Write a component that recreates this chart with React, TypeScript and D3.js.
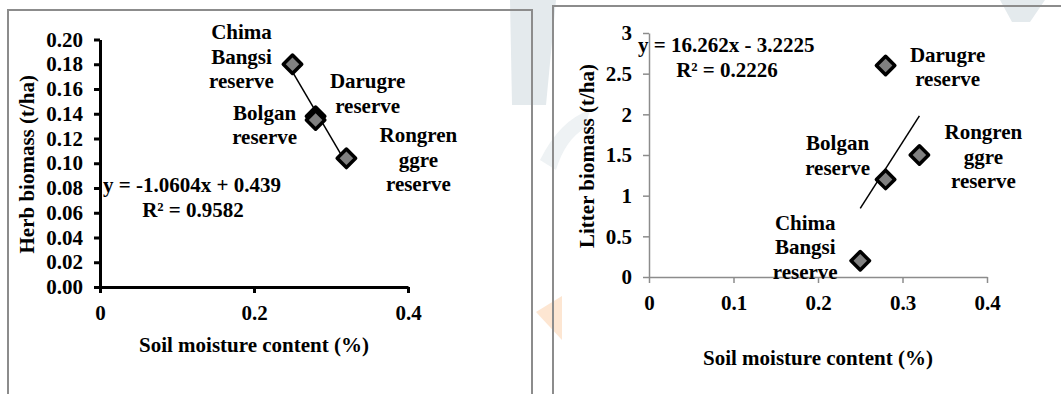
import React, { useEffect, useRef } from "react";
import * as d3 from "d3";

// site names (label lines) and soil moisture for each reserve
const sites = ["Chima Bangsi", "Darugre", "Bolgan", "Rongrenggre"];
const siteLines = [
  ["Chima", "Bangsi", "reserve"],
  ["Darugre", "reserve"],
  ["Bolgan", "reserve"],
  ["Rongren", "ggre", "reserve"],
];
const moisture = [0.25, 0.28, 0.28, 0.32];
const herbBiomass = [0.18, 0.138, 0.135, 0.104];
const litterBiomass = [0.2, 2.6, 1.2, 1.5];

const herbTicksX = [0, 0.2, 0.4];
const herbTicksY = [0, 0.02, 0.04, 0.06, 0.08, 0.1, 0.12, 0.14, 0.16, 0.18, 0.2];
const litterTicksX = [0, 0.1, 0.2, 0.3, 0.4];
const litterTicksY = [0, 0.5, 1, 1.5, 2, 2.5, 3];

// trendline coefficients shown on the charts
const herbFit = { slope: -1.0604, icept: 0.439, eq: "y = -1.0604x + 0.439", r2: "R² = 0.9582" };
const litterFit = { slope: 16.262, icept: -3.2225, eq: "y = 16.262x - 3.2225", r2: "R² = 0.2226" };

const FONT = "Liberation Serif, DejaVu Serif, serif";

export default function App() {
  const svgRef = useRef<SVGSVGElement>(null);

  useEffect(() => {
    const svg = d3.select(svgRef.current);
    svg.selectAll("*").remove();

    // faint watermark shapes in the background
    const wm = svg.append("g");
    wm.append("path").attr("d", "M510,0 L556,0 L546,105 L512,105 Z").attr("fill", "#e4eaed");
    wm.append("path").attr("d", "M1000,0 L1045,0 L1030,22 L1012,22 Z").attr("fill", "#e4eaed");
    wm.append("path").attr("d", "M536,312 L562,296 L562,340 Z").attr("fill", "#fde6d2");
    wm.append("path").attr("d", "M540,160 Q560,120 590,110 L585,128 Q565,140 556,170 Z").attr("fill", "#eef2f4");

    // panel frames
    svg.append("path").attr("d", "M8,394 L8,10 L532,10 L532,394")
      .attr("fill", "none").attr("stroke", "#8c8c8c").attr("stroke-width", 2);
    svg.append("path").attr("d", "M553,394 L553,6 L1061,6")
      .attr("fill", "none").attr("stroke", "#8c8c8c").attr("stroke-width", 2);

    const drawPanel = (opts: any) => {
      const { x, y, xTicks, yTicks, yFmt, xFmt, values, fit, axisColor, axisWidth,
        labelOffsets, yTitle, yTitleX, xTitleY, eqPos, r2Pos, xPad } = opts;
      const g = svg.append("g");

      const xAxis = d3.axisBottom(x).tickValues(xTicks).tickFormat(xFmt)
        .tickSize(6).tickSizeOuter(0).tickPadding(xPad);
      const yAxis = d3.axisLeft(y).tickValues(yTicks).tickFormat(yFmt)
        .tickSize(6).tickSizeOuter(0).tickPadding(11);

      [
        g.append("g").attr("transform", `translate(0,${y.range()[0]})`).call(xAxis),
        g.append("g").attr("transform", `translate(${x.range()[0]},0)`).call(yAxis),
      ].forEach((a) => {
        a.attr("font-family", FONT);
        a.select(".domain").attr("stroke", axisColor).attr("stroke-width", axisWidth);
        a.selectAll(".tick line").attr("stroke", axisColor).attr("stroke-width", axisWidth);
        a.selectAll("text").attr("font-family", FONT).attr("font-size", 21)
          .attr("font-weight", "bold").attr("fill", "#000");
      });

      // trendline
      const x0 = d3.min(moisture)!, x1 = d3.max(moisture)!;
      g.append("line")
        .attr("x1", x(x0)).attr("y1", y(fit.slope * x0 + fit.icept))
        .attr("x2", x(x1)).attr("y2", y(fit.slope * x1 + fit.icept))
        .attr("stroke", "#000").attr("stroke-width", 1.5);

      // diamond markers (squares turned 45 degrees)
      g.selectAll(".pt").data(values).join("path")
        .attr("transform", (d: number, i: number) => `translate(${x(moisture[i])},${y(d)}) rotate(45)`)
        .attr("d", d3.symbol().type(d3.symbolSquare).size(170)())
        .attr("fill", "#808080").attr("stroke", "#000").attr("stroke-width", 3.5)
        .attr("stroke-linejoin", "round");

      // site labels
      sites.forEach((s, i) => {
        const [dx, dy] = labelOffsets[i];
        const t = g.append("text")
          .attr("font-family", FONT).attr("font-size", 21).attr("font-weight", "bold")
          .attr("text-anchor", "middle");
        siteLines[i].forEach((ln, k) => {
          t.append("tspan").attr("x", x(moisture[i]) + dx)
            .attr("y", y(values[i]) + dy + k * 24.5 + 7).text(ln);
        });
      });

      // equation
      g.append("text").attr("x", eqPos[0]).attr("y", eqPos[1] + 7)
        .attr("font-family", FONT).attr("font-size", 21).attr("font-weight", "bold").text(fit.eq);
      g.append("text").attr("x", r2Pos[0]).attr("y", r2Pos[1] + 7).attr("text-anchor", "middle")
        .attr("font-family", FONT).attr("font-size", 21).attr("font-weight", "bold").text(fit.r2);

      // axis titles
      const xr = x.range();
      g.append("text").attr("x", (xr[0] + xr[1]) / 2).attr("y", xTitleY + 7).attr("text-anchor", "middle")
        .attr("font-family", FONT).attr("font-size", 21).attr("font-weight", "bold")
        .text("Soil moisture content (%)");
      const yr = y.range();
      g.append("text").attr("transform", `translate(${yTitleX},${(yr[0] + yr[1]) / 2 + 1}) rotate(-90)`)
        .attr("text-anchor", "middle").attr("dy", "0.35em")
        .attr("font-family", FONT).attr("font-size", 21).attr("font-weight", "bold")
        .text(yTitle);
    };

    drawPanel({
      x: d3.scaleLinear().domain([0, 0.4]).range([100, 408]),
      y: d3.scaleLinear().domain([0, 0.2]).range([287, 39.5]),
      xTicks: herbTicksX, yTicks: herbTicksY,
      xFmt: (d: number) => (d === 0 ? "0" : String(d)),
      yFmt: d3.format(".2f"),
      values: herbBiomass, fit: herbFit,
      axisColor: "#000", axisWidth: 3, xPad: 12,
      labelOffsets: [[-51, -32], [52, -35], [-51, -7], [72, -23]],
      yTitle: "Herb biomass (t/ha)", yTitleX: 27, xTitleY: 345,
      eqPos: [103, 185], r2Pos: [193, 210],
    });

    drawPanel({
      x: d3.scaleLinear().domain([0, 0.4]).range([649, 987]),
      y: d3.scaleLinear().domain([0, 3]).range([277, 33]),
      xTicks: litterTicksX, yTicks: litterTicksY,
      xFmt: (d: number) => String(d),
      yFmt: (d: number) => String(d),
      values: litterBiomass, fit: litterFit,
      axisColor: "#8c8c8c", axisWidth: 1.5, xPad: 12,
      labelOffsets: [[-55, -38], [62, -11], [-48, -36], [64, -23]],
      yTitle: "Litter biomass (t/ha)", yTitleX: 587, xTitleY: 358,
      eqPos: [638, 45], r2Pos: [727, 70],
    });
  }, []);

  return (
    <svg ref={svgRef} width={1061} height={394}
      style={{ position: "absolute", left: 0, top: 0, background: "#fff" }} />
  );
}
